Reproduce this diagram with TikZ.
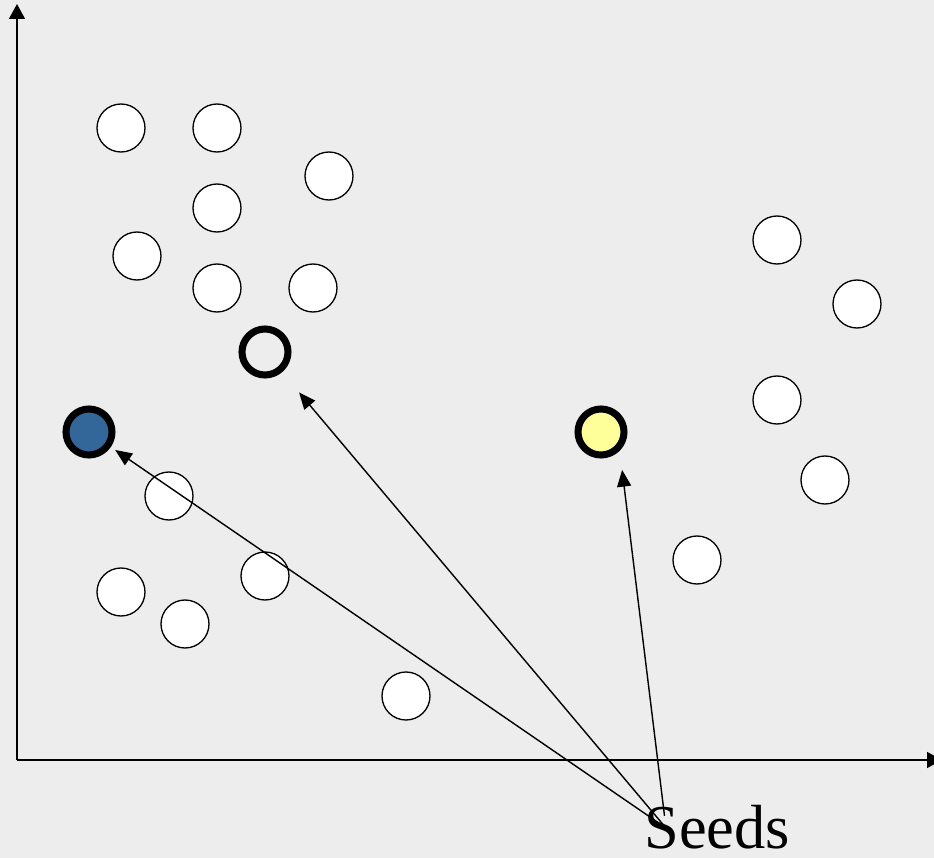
\documentclass[tikz,border=0pt]{standalone}
\usepackage{fontspec}
\setmainfont{Liberation Serif}
\usetikzlibrary{arrows.meta}

\tikzset{
  point/.style={circle,draw=black,fill=white,line width=0.75pt,minimum size=0.96cm,inner sep=0pt},
  seed/.style={circle,draw=black,line width=4pt,minimum size=0.92cm,inner sep=0pt},
  axis/.style={line width=1.1pt,-{Triangle[length=8.5pt,width=9pt]}},
  pointer/.style={line width=0.8pt,-{Triangle[length=9.5pt,width=8pt]}}
}
\definecolor{bgcol}{HTML}{EDEDED}
\definecolor{seedblue}{HTML}{336699}
\definecolor{seedyellow}{HTML}{FFFF99}

\begin{document}
\begin{tikzpicture}[x=0.02cm,y=-0.02cm]
  \fill[bgcol] (0,0) rectangle (934,858);
  \useasboundingbox (0,0) rectangle (934,858);

  % axes
  \coordinate (origin) at (17,760);
  \coordinate (ytop) at (17,4);
  \coordinate (xend) at (942,760);
  \draw[axis] (origin) -- (ytop);
  \draw[axis] (origin) -- (xend);

  % data points
  \foreach \px/\py [count=\i] in {121/128, 217/128, 329/176, 217/208, 137/256,
      217/288, 313/288, 777/240, 857/304, 777/400, 825/480, 697/560,
      169/496, 265/576, 121/592, 185/624, 406/696}
    \node[point] (p\i) at (\px,\py) {};

  % seeds
  \node[seed,fill=seedblue] (blue) at (89,432) {};
  \node[seed,fill=bgcol] (open) at (265,352) {};
  \node[seed,fill=seedyellow] (yellow) at (601,432) {};

  \node[font=\fontsize{35.5}{42}\selectfont,inner sep=0pt,anchor=base west] (label) at (644,848) {Seeds};
  \coordinate (src) at (666,828);

  \draw[pointer,shorten >=3pt] (src) -- (blue);
  \draw[pointer,shorten >=15pt] (src) -- (open);
  \draw[pointer,shorten <=7pt,shorten >=11pt] (src) -- (yellow.south east);
\end{tikzpicture}
\end{document}
